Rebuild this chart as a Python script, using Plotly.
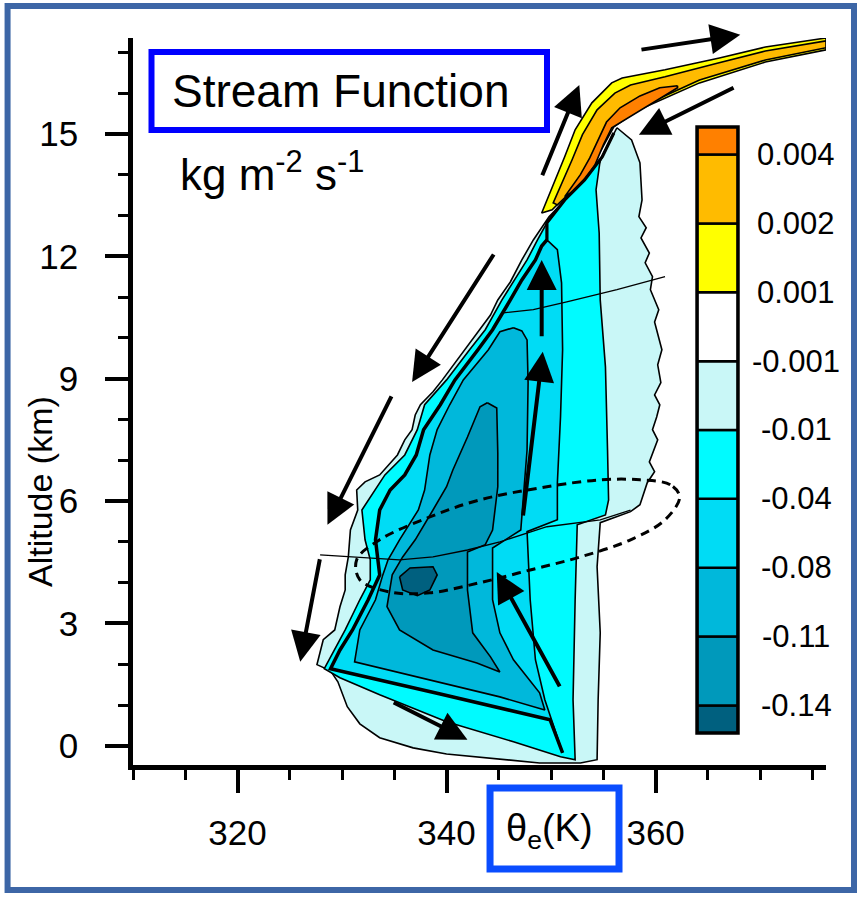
import plotly.graph_objects as go

# stream function levels (kg m-2 s-1) and the colour of each band, bottom to top
level_vals = [-0.14, -0.11, -0.08, -0.04, -0.01, -0.001, 0.001, 0.002, 0.004]
level_text = ["-0.14", "-0.11", "-0.08", "-0.04", "-0.01", "-0.001", "0.001", "0.002", "0.004"]
band_colors = ["#00607f", "#0099bb", "#00b8db", "#00dcf5", "#00fbff",
               "#c9f7f7", "#ffffff", "#ffff00", "#ffbb00", "#ff8000"]

# contour outlines: theta_e (K), altitude (km)
# psi = -0.001
neg1_th = [356.3, 357.7, 358.5, 358.7, 358.4, 359.1, 358.6, 359.4, 359.0, 359.7, 359.5, 360.3,
           359.9, 360.6, 360.2, 360.5, 359.9, 360.4, 360.1, 359.7, 360.2, 359.8, 359.4, 359.9,
           359.2, 358.5, 357.6, 354.7, 354.4, 354.7,
           354.5, 354.4, 352.8, 348.9, 344.8, 340.0, 336.8, 333.6, 331.7, 330.5, 329.6, 328.9,
           327.6, 328.2, 329.3, 329.8, 330.3, 330.3, 330.6, 330.8, 331.5, 331.4, 332.2, 333.6,
           335.3, 336.0, 336.7, 337.0, 337.5, 338.7, 339.6, 341.0, 341.8, 343.2, 344.2, 344.9,
           346.1, 347.2, 348.3, 349.8, 351.8, 353.9, 355.2]
neg1_z = [15.15, 14.85, 14.29, 13.38, 12.97, 12.70, 12.45, 12.08, 11.84, 11.50, 11.18, 10.69,
          10.39, 9.71, 9.34, 8.90, 8.60, 8.36, 8.06, 7.75, 7.50, 7.25, 6.96, 6.72,
          6.45, 5.91, 5.74, 5.47, 4.39, 2.77,
          1.13, -0.34, -0.42, -0.42, -0.32, -0.20, -0.05, 0.20, 0.54, 0.96, 1.57, 1.84,
          1.99, 2.60, 2.84, 3.41, 3.82, 4.19, 4.63, 5.29, 5.78, 6.27, 6.47, 6.64,
          7.13, 7.50, 7.75, 8.11, 8.36, 8.68, 8.97, 9.46, 9.71, 10.20, 10.56, 10.93,
          11.37, 11.91, 12.40, 12.97, 13.50, 13.87, 14.61]

# psi = -0.01
neg2_th = [356.0, 354.7, 354.3, 354.6, 354.7, 355.2, 355.4, 355.5, 355.2, 352.5, 352.3, 352.1,
           352.3, 350.9, 346.4, 340.0, 333.6, 329.8, 328.3, 329.3, 330.3, 331.7, 332.7, 332.7,
           332.2, 331.9, 333.2, 334.1, 336.0, 337.2, 337.9, 340.0, 342.2, 343.7, 345.3, 347.7,
           348.7, 349.6, 351.3, 353.2, 354.9]
neg2_z = [15.02, 14.36, 13.63, 12.57, 10.93, 9.29, 7.25, 6.03, 5.66, 5.42, 3.58, 1.13,
          -0.34, -0.27, 0.10, 0.59, 1.25, 1.67, 1.89, 2.35, 2.84, 3.58, 4.07, 4.56,
          5.05, 5.78, 6.27, 6.64, 7.13, 7.75, 8.36, 8.97, 9.71, 10.20, 10.93, 11.91,
          12.40, 12.82, 13.38, 13.87, 14.44]
upper_edge = 37  # from here on the -0.01 contour borders the tongue

# psi = -0.04 (first 24 points: the bold western and lower edge)
neg3_th = [349.6, 349.1, 348.5, 347.2, 346.1, 344.4, 343.0, 340.8, 339.4, 337.8, 337.1, 336.0,
           334.6, 333.6, 333.2, 333.4, 333.6, 332.5, 331.0, 329.8, 328.9, 339.4, 349.9, 351.1,
           349.4, 348.5, 348.0, 347.7, 350.6, 350.6, 350.9, 351.1, 351.0, 350.6]
neg3_z = [12.40, 12.25, 11.91, 11.42, 10.93, 10.20, 9.71, 8.97, 8.36, 7.75, 7.13, 6.64,
          6.27, 5.78, 5.05, 4.56, 4.19, 3.58, 2.84, 2.35, 1.89, 1.27, 0.64, -0.17,
          1.13, 2.11, 3.58, 5.25, 5.54, 6.45, 8.06, 9.71, 11.35, 12.16]
bold_edge = 24

# psi = -0.08
neg4_th = [346.4, 347.2, 347.7, 347.8, 347.7, 347.3, 347.1, 344.4, 344.4, 345.1, 346.4, 348.9,
           349.4, 345.1, 340.3, 335.5, 331.2, 331.7, 333.2, 333.9, 334.4, 335.5, 337.3, 337.9,
           338.1, 338.4, 339.1, 340.3, 341.6, 344.0, 345.1]
neg4_z = [10.25, 10.17, 9.95, 8.90, 7.25, 6.03, 5.29, 4.85, 3.58, 2.77, 2.11, 1.30,
          0.88, 1.20, 1.50, 1.81, 2.06, 2.84, 3.58, 4.19, 4.56, 5.05, 5.78, 6.27,
          6.64, 7.13, 7.75, 8.36, 8.97, 9.71, 10.15]

# psi = -0.11
neg5_th = [343.9, 344.8, 344.9, 344.9, 344.4, 343.7, 342.0, 342.0, 342.5, 344.2, 345.1, 342.9,
           338.7, 335.5, 334.3, 334.8, 335.8, 337.0, 338.7, 340.0, 340.6, 342.0, 343.2]
neg5_z = [8.41, 8.28, 7.18, 6.35, 5.29, 4.93, 4.75, 3.82, 2.77, 2.18, 1.81, 2.03,
          2.35, 2.84, 3.41, 4.19, 4.63, 5.05, 5.78, 6.35, 6.76, 7.57, 8.31]

# psi = -0.14
neg6_th = [335.5, 336.5, 338.7, 339.1, 338.4, 337.2, 335.8]
neg6_z = [4.14, 4.36, 4.39, 4.19, 3.82, 3.68, 3.82]

# psi = 0.001, 0.002, 0.004 (upper tropospheric tongue)
pos1_th = [376.3, 370.5, 366.1, 360.9, 356.8, 355.8, 353.9, 352.3, 351.3, 350.4, 349.6, 349.1,
           350.1, 352.0, 353.9, 355.2, 356.0, 358.4, 364.2, 370.5, 376.3]
pos1_z = [17.35, 17.13, 16.86, 16.57, 16.37, 16.25, 15.76, 15.10, 14.44, 13.87, 13.38, 13.06,
          13.14, 13.63, 14.19, 14.78, 15.17, 15.59, 16.25, 16.76, 17.06]
pos2_th = [376.3, 370.5, 365.7, 360.9, 357.6, 356.1, 354.4, 353.0, 352.0, 351.0, 350.2, 350.6,
           352.3, 353.9, 355.1, 355.8, 358.4, 364.2, 370.5, 376.3]
pos2_z = [17.28, 17.03, 16.72, 16.40, 16.20, 16.00, 15.59, 14.98, 14.36, 13.80, 13.31, 13.26,
          13.68, 14.24, 14.80, 15.17, 15.64, 16.32, 16.81, 17.11]
pos3_th = [362.1, 360.4, 358.5, 356.6, 355.3, 354.5, 353.7, 352.8, 351.3, 352.0, 353.2, 354.2,
           355.0, 355.8, 358.4, 362.1]
pos3_z = [16.18, 16.13, 15.93, 15.64, 15.29, 14.85, 14.41, 14.00, 13.46, 13.58, 13.87, 14.24,
          14.73, 15.15, 15.56, 16.13]

# thin seam lines crossing the cell
seam1_th = [345.4, 348.3, 351.5, 356.3, 360.9]
seam1_z = [10.61, 10.69, 10.88, 11.18, 11.50]
seam2_th = [327.9, 332.4, 335.5, 338.7, 342.0, 345.1, 349.6, 354.7, 357.6]
seam2_z = [4.68, 4.61, 4.56, 4.63, 4.80, 5.00, 5.37, 5.54, 5.78]

# dashed ellipse around the melting layer
ell_th = [362.3, 361.4, 358.5, 354.7, 349.6, 343.2, 338.4, 333.6, 331.4, 331.7, 334.6, 338.4,
          343.2, 348.0, 352.8, 357.6, 360.9, 362.3]
ell_z = [6.10, 6.40, 6.52, 6.52, 6.35, 6.03, 5.61, 5.05, 4.56, 4.07, 3.77, 3.75,
         4.00, 4.31, 4.63, 5.05, 5.54, 6.10]

# circulation arrows: (tail theta, tail z, head theta, head z)
arrows = [
    (358.5, 17.06, 368.1, 17.43),
    (349.1, 13.95, 352.7, 16.20),
    (367.6, 16.15, 358.4, 14.98),
    (344.6, 12.08, 336.7, 8.92),
    (334.8, 8.60, 328.6, 5.42),
    (327.9, 4.61, 326.0, 2.06),
    (349.1, 10.00, 349.1, 11.91),
    (347.3, 5.61, 349.2, 9.66),
    (350.9, 1.42, 344.8, 4.26),
    (334.8, 1.08, 342.0, 0.15),
]

FONT = "Liberation Sans, Arial, sans-serif"

fig = go.Figure()

regions = [
    (neg1_th, neg1_z, 5), (neg2_th, neg2_z, 4), (neg3_th, neg3_z, 3),
    (neg4_th, neg4_z, 2), (neg5_th, neg5_z, 1), (neg6_th, neg6_z, 0),
    (pos1_th, pos1_z, 7), (pos2_th, pos2_z, 8), (pos3_th, pos3_z, 9),
]
for th, z, k in regions:
    fig.add_trace(go.Scatter(
        x=th + th[:1], y=z + z[:1], mode="lines", fill="toself",
        fillcolor=band_colors[k], line=dict(color="black", width=1.6),
        hoverinfo="skip"))

# bold edges: -0.04 contour west/bottom side, then -0.01 contour under the tongue
fig.add_trace(go.Scatter(x=neg3_th[:bold_edge], y=neg3_z[:bold_edge], mode="lines",
                         line=dict(color="black", width=3.5), hoverinfo="skip"))
fig.add_trace(go.Scatter(x=neg3_th[:1] + neg2_th[upper_edge:] + neg2_th[:1],
                         y=neg3_z[:1] + neg2_z[upper_edge:] + neg2_z[:1], mode="lines",
                         line=dict(color="black", width=3.2), hoverinfo="skip"))

for th, z in ((seam1_th, seam1_z), (seam2_th, seam2_z)):
    fig.add_trace(go.Scatter(x=th, y=z, mode="lines", line=dict(color="black", width=1.3),
                             hoverinfo="skip"))

fig.add_trace(go.Scatter(x=ell_th, y=ell_z, mode="lines",
                         line=dict(color="black", width=3, dash="9px,6px", shape="spline"),
                         hoverinfo="skip"))

# colour bar drawn as a stacked column on its own axes
fig.add_trace(go.Bar(
    x=[0] * len(band_colors), y=[1] * len(band_colors), base=list(range(len(band_colors))),
    width=1, marker=dict(color=band_colors, line=dict(color="black", width=2.5)),
    xaxis="x2", yaxis="y2", hoverinfo="skip"))

for t0, z0, t1, z1 in arrows:
    fig.add_annotation(x=t1, y=z1, ax=t0, ay=z0, xref="x", yref="y", axref="x", ayref="y",
                       text="", showarrow=True, arrowhead=2, arrowsize=1.5,
                       arrowwidth=4, arrowcolor="black", standoff=0)

for i, txt in enumerate(level_text):
    fig.add_annotation(x=0.957, y=i + 1, xref="paper", yref="y2", text=txt,
                       showarrow=False, xanchor="center", yanchor="middle",
                       font=dict(family=FONT, size=31, color="black"))

fig.add_annotation(x=0.300, y=0.9275, xref="paper", yref="paper", text="Stream Function",
                   showarrow=False, xanchor="center", yanchor="middle",
                   font=dict(family=FONT, size=46, color="black"))
fig.add_annotation(x=0.0649, y=0.8157, xref="paper", yref="paper", xanchor="left",
                   yanchor="middle", text="kg m<sup>-2</sup> s<sup>-1</sup>", showarrow=False,
                   font=dict(family=FONT, size=44, color="black"))
fig.add_annotation(x=-0.1342, y=0.3769, xref="paper", yref="paper", text="Altitude (km)",
                   textangle=-90, showarrow=False, xanchor="center", yanchor="middle",
                   font=dict(family=FONT, size=34, color="black"))
fig.add_annotation(x=0.6017, y=-0.0908, xref="paper", yref="paper", text="θ<sub>e</sub>(K)",
                   showarrow=False, xanchor="center", yanchor="middle",
                   font=dict(family=FONT, size=38, color="black"))

fig.add_shape(type="rect", xref="paper", yref="paper", x0=-0.181, x1=1.0404, y0=-0.1719,
              y1=1.044, line=dict(color="#3d66a6", width=6))
fig.add_shape(type="rect", xref="paper", yref="paper", x0=0.0267, x1=0.5974, y0=0.8735,
              y1=0.9807, line=dict(color="#0000ff", width=6))
fig.add_shape(type="rect", xref="paper", yref="paper", x0=0.5152, x1=0.7013, y0=-0.1431,
              y1=-0.0316, line=dict(color="#0a4dff", width=7))
fig.add_shape(type="rect", xref="x2 domain", yref="y2 domain", x0=0, x1=1, y0=0, y1=1,
              line=dict(color="black", width=3.5))

fig.update_layout(
    width=864, height=900,
    margin=dict(l=133, r=38, t=38, b=135),
    plot_bgcolor="white", paper_bgcolor="white",
    showlegend=False,
    font=dict(family=FONT, color="black"),
    xaxis=dict(range=[310, 376.3], showgrid=False, zeroline=False, showline=True,
               linecolor="black", linewidth=4.5, ticks="outside", ticklen=23, tickwidth=4,
               tickcolor="black", tick0=0, dtick=20, tickfont=dict(size=35),
               ticklabelstandoff=10,
               minor=dict(ticks="outside", tick0=0, dtick=5, ticklen=10, tickwidth=3,
                          tickcolor="black")),
    yaxis=dict(range=[-0.47, 17.35], showgrid=False, zeroline=False, showline=True,
               linecolor="black", linewidth=4.5, ticks="outside", ticklen=23, tickwidth=4,
               tickcolor="black", tick0=0, dtick=3, tickfont=dict(size=35),
               ticklabelstandoff=20,
               minor=dict(ticks="outside", tick0=0, dtick=1, ticklen=10, tickwidth=3,
                          tickcolor="black")),
    xaxis2=dict(domain=[0.8139, 0.8730], range=[-0.5, 0.5], anchor="y2", visible=False),
    yaxis2=dict(domain=[0.044, 0.8776], range=[0.6, 9.4], anchor="x2", visible=False),
)

fig.write_html("out.html", config={"displayModeBar": False},
               post_script="document.body.style.margin = '0px';")
